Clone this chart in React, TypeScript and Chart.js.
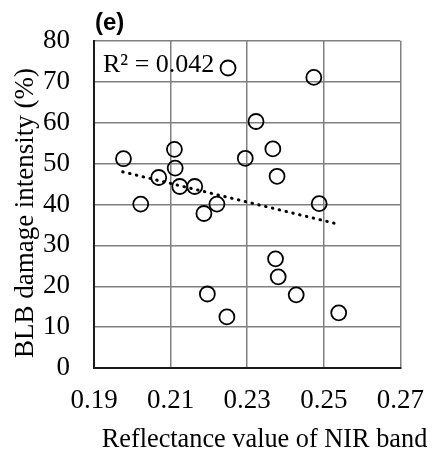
import React, { useEffect, useRef } from "react";
import { Chart, registerables } from "chart.js";

Chart.register(...registerables);

const NIR = [0.1977, 0.2022, 0.2069, 0.211, 0.2112, 0.2124, 0.2163, 0.2187, 0.2221, 0.2196, 0.2323, 0.2295, 0.225, 0.2474, 0.2367, 0.2378, 0.2488, 0.2374, 0.2381, 0.2428, 0.2539, 0.2247];
const BLB = [51.2, 40.1, 46.6, 53.5, 48.9, 44.4, 44.4, 37.8, 40.1, 18.1, 60.3, 51.3, 73.4, 71.1, 53.6, 46.9, 40.2, 26.7, 22.3, 17.9, 13.5, 12.5];
const TREND_X = [0.1975, 0.2529];
const TREND_Y = [48.0, 35.4];
const X_RANGE = [0.19, 0.27];
const X_STEP = 0.02;
const Y_RANGE = [0, 80];
const Y_STEP = 10;
const PANEL_LABEL = "(e)";
const R2_LABEL = "R² = 0.042";
const X_TITLE = "Reflectance value of NIR band";
const Y_TITLE = "BLB damage intensity (%)";

const SERIF = "'Liberation Serif', 'Times New Roman', serif";

const textPlugin = {
  id: "panelText",
  afterDraw(chart: any) {
    const { ctx, chartArea } = chart;
    ctx.save();
    ctx.fillStyle = "#000";
    ctx.textBaseline = "alphabetic";
    ctx.textAlign = "left";
    ctx.font = "bold 24px 'Liberation Sans', Arial, sans-serif";
    ctx.fillText(PANEL_LABEL, chartArea.left + 1, chartArea.top - 11);
    ctx.font = "26px " + SERIF;
    ctx.fillText(R2_LABEL, chartArea.left + 9, chartArea.top + 31);
    // axis titles
    ctx.textAlign = "center";
    ctx.font = "26.3px " + SERIF;
    ctx.fillText(X_TITLE, chartArea.left + 170.5, chartArea.bottom + 79);
    ctx.font = "27px " + SERIF;
    ctx.save();
    ctx.translate(33, chartArea.top + 172);
    ctx.rotate(-Math.PI / 2);
    ctx.fillText(Y_TITLE, 0, 0);
    ctx.restore();
    ctx.restore();
  },
};

export default function App() {
  const ref = useRef<HTMLCanvasElement>(null);
  useEffect(() => {
    const canvas = ref.current;
    if (!canvas) return;
    const chart = new Chart(canvas, {
      type: "scatter",
      data: {
        datasets: [
          {
            label: "data",
            data: NIR.map((x, i) => ({ x, y: BLB[i] })),
            pointStyle: "circle",
            pointRadius: 7.5,
            pointBorderWidth: 1.8,
            pointBorderColor: "#000",
            pointBackgroundColor: "rgba(0,0,0,0)",
            showLine: false,
            order: 1,
          },
          {
            label: "trend",
            data: TREND_X.map((x, i) => ({ x, y: TREND_Y[i] })),
            showLine: true,
            pointRadius: 0,
            borderColor: "#000",
            borderWidth: 3,
            borderDash: [0.5, 6.5],
            borderCapStyle: "round",
            order: 2,
          },
        ],
      },
      options: {
        responsive: false,
        animation: false,
        layout: { padding: { top: 41, right: 27, left: 0, bottom: 0 } },
        plugins: { legend: { display: false }, tooltip: { enabled: false } },
        scales: {
          x: {
            type: "linear",
            min: X_RANGE[0],
            max: X_RANGE[1],
            afterFit: (s: any) => {
              s.height = 85;
            },
            ticks: {
              stepSize: X_STEP,
              color: "#000",
              padding: 17,
              font: { family: SERIF, size: 27 },
              callback: (v: any) => Number(v).toFixed(2),
            },
            grid: { color: "#808080", lineWidth: 1.5, drawTicks: false },
            border: { color: "#1a1a1a", width: 2 },
            title: { display: false, text: X_TITLE },
          },
          y: {
            type: "linear",
            min: Y_RANGE[0],
            max: Y_RANGE[1],
            afterFit: (s: any) => {
              s.width = 94;
            },
            ticks: {
              stepSize: Y_STEP,
              color: "#000",
              padding: 24,
              font: { family: SERIF, size: 27 },
            },
            grid: { color: "#808080", lineWidth: 1.5, drawTicks: false },
            border: { color: "#1a1a1a", width: 2 },
            title: { display: false, text: Y_TITLE },
          },
        },
      },
      plugins: [textPlugin],
    } as any);
    return () => chart.destroy();
  }, []);
  return (
    <div style={{ position: "fixed", left: 0, top: 0, width: 441, height: 453, background: "#fff" }}>
      <canvas ref={ref} width={441} height={453} />
    </div>
  );
}
